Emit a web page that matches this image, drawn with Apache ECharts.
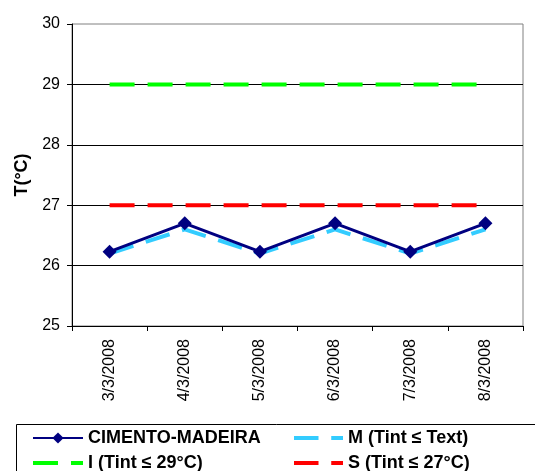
<!DOCTYPE html>
<html><head><meta charset="utf-8">
<script src="https://cdn.jsdelivr.net/npm/echarts@6/dist/echarts.min.js"></script>
<style>html,body{margin:0;padding:0;background:#fff}#c{width:535px;height:471px}</style>
</head><body><div id="c"></div>
<script>
const categories = ['3/3/2008','4/3/2008','5/3/2008','6/3/2008','7/3/2008','8/3/2008'];
const cimentoMadeira = [26.23, 26.70, 26.23, 26.70, 26.23, 26.70];
const mText = [26.20, 26.60, 26.20, 26.60, 26.20, 26.60];
const i29 = [29, 29, 29, 29, 29, 29];
const s27 = [27, 27, 27, 27, 27, 27];
const yTicks = [25, 26, 27, 28, 29, 30];

const chart = echarts.init(document.getElementById('c'), null, {renderer: 'canvas'});
const font = 'Liberation Sans, Arial, sans-serif';
const dash = [25, 13];
const dashIcon = 'path://M0,0 M50,14 M0,5h25v4h-25z M38,5h12v4h-12z';
const legendText = {fontSize: 18, fontWeight: 'bold', color: '#000', fontFamily: font, lineHeight: 17};
chart.setOption({
  animation: false,
  backgroundColor: '#fff',
  grid: {left: 72, right: 12, top: 24, bottom: 145, show: true, borderColor: '#808080', borderWidth: 1, backgroundColor: 'transparent'},
  xAxis: {
    type: 'category', data: categories, boundaryGap: true,
    axisLine: {lineStyle: {color: '#000', width: 1}},
    axisTick: {show: true, length: 5, inside: false, lineStyle: {color: '#000'}},
    axisLabel: {rotate: 90, margin: 13, fontSize: 16, color: '#000', fontFamily: font, interval: 0}
  },
  yAxis: {
    type: 'value', min: yTicks[0], max: yTicks[yTicks.length-1], interval: 1,
    name: 'T(°C)', nameLocation: 'middle', nameGap: 33, nameRotate: 90,
    nameTextStyle: {fontSize: 18, fontWeight: 'bold', color: '#000', fontFamily: font},
    axisLine: {show: true, lineStyle: {color: '#000', width: 1}},
    axisTick: {show: true, length: 5, lineStyle: {color: '#000'}},
    axisLabel: {fontSize: 16, color: '#000', fontFamily: font, margin: 12},
    splitLine: {show: true, showMaxLine: false, lineStyle: {color: '#000', width: 1}}
  },
  legend: [
    {data: ['CIMENTO-MADEIRA', {name: 'I (Tint ≤ 29°C)', icon: dashIcon}], orient: 'vertical', left: 32, top: 429, height: 120, width: 250,
     itemWidth: 50, itemHeight: 14, itemGap: 7, padding: 0, textStyle: legendText},
    {data: [{name: 'M (Tint ≤ Text)', icon: dashIcon}, {name: 'S (Tint ≤ 27°C)', icon: dashIcon}], orient: 'vertical', left: 294, top: 429, height: 120, width: 230,
     itemWidth: 49, itemHeight: 14, itemGap: 7, padding: 0, textStyle: legendText}
  ],
  graphic: [{type: 'rect', shape: {x: 16.5, y: 424.5, width: 560, height: 80}, style: {fill: 'none', stroke: '#000', lineWidth: 1}, silent: true}],
  series: [
    {name: 'I (Tint ≤ 29°C)', type: 'line', data: i29, symbol: 'none', lineStyle: {color: '#00FF00', width: 4, type: dash}, itemStyle: {color: '#00FF00'}, z: 2},
    {name: 'S (Tint ≤ 27°C)', type: 'line', data: s27, symbol: 'none', lineStyle: {color: '#FF0000', width: 4, type: dash}, itemStyle: {color: '#FF0000'}, z: 2},
    {name: 'M (Tint ≤ Text)', type: 'line', data: mText, symbol: 'none', lineStyle: {color: '#33CCFF', width: 4, type: dash}, itemStyle: {color: '#33CCFF'}, z: 3},
    {name: 'CIMENTO-MADEIRA', type: 'line', data: cimentoMadeira, symbol: 'diamond', symbolSize: 14, lineStyle: {color: '#000080', width: 3}, itemStyle: {color: '#000080'}, z: 4}
  ]
});
</script></body></html>
